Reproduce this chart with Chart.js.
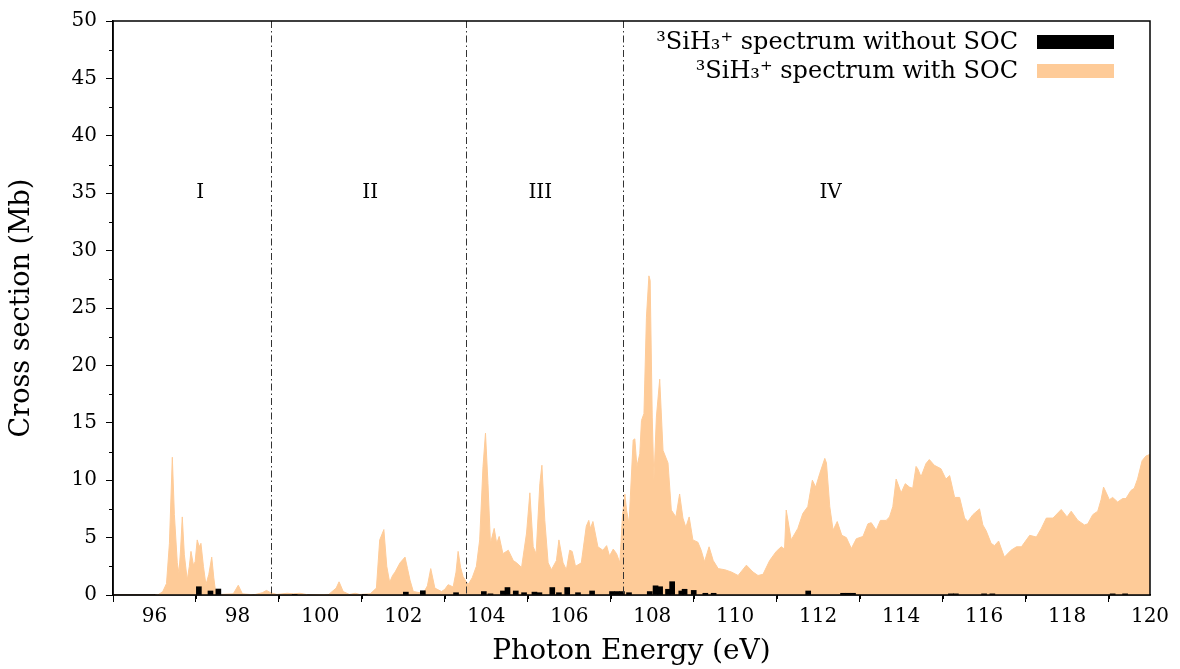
<!DOCTYPE html>
<html>
<head>
<meta charset="utf-8">
<script src="https://cdn.jsdelivr.net/npm/chart.js@4.4.1/dist/chart.umd.min.js"></script>
<style>
  html, body { margin: 0; padding: 0; background: #ffffff; }
  #wrap { width: 1180px; height: 669px; }
</style>
</head>
<body>
<div id="wrap"><canvas id="c" width="1180" height="669"></canvas></div>
<script>
// ---- data ----
const energySOC = [
  95.0, 96.0, 96.1, 96.2, 96.29, 96.36, 96.43, 96.48, 96.55, 96.59, 96.63, 96.67, 96.72, 96.79, 96.84, 96.88, 96.94, 96.98,
  97.03, 97.08, 97.12, 97.18, 97.24, 97.31, 97.38, 97.43, 97.48, 97.6, 97.9, 98.02, 98.12, 98.4, 98.6, 98.7, 98.8, 98.95,
  99.2, 99.35, 99.5, 99.7, 100.2, 100.38, 100.45, 100.55, 100.7, 100.84, 100.95, 101.2, 101.35, 101.43, 101.53, 101.6,
  101.67, 101.74, 101.8, 101.92, 102.04, 102.1, 102.16, 102.24, 102.48, 102.58, 102.66, 102.76, 102.92, 103.0, 103.08,
  103.2, 103.27, 103.32, 103.38, 103.44, 103.56, 103.66, 103.76, 103.84, 103.92, 103.98, 104.04, 104.1, 104.19, 104.25,
  104.31, 104.4, 104.53, 104.65, 104.73, 104.85, 104.97, 105.05, 105.13, 105.2, 105.29, 105.34, 105.41, 105.49, 105.57,
  105.69, 105.75, 105.85, 105.93, 106.01, 106.07, 106.15, 106.29, 106.41, 106.47, 106.51, 106.57, 106.69, 106.81, 106.9,
  106.97, 107.06, 107.14, 107.22, 107.28, 107.34, 107.38, 107.44, 107.54, 107.58, 107.63, 107.7, 107.74, 107.8, 107.86,
  107.92, 107.95, 108.0, 108.04, 108.1, 108.18, 108.26, 108.38, 108.46, 108.57, 108.66, 108.74, 108.81, 108.89, 108.98,
  109.1, 109.18, 109.26, 109.37, 109.47, 109.59, 109.75, 109.91, 110.07, 110.27, 110.43, 110.55, 110.67, 110.83, 110.99,
  111.11, 111.19, 111.23, 111.35, 111.51, 111.63, 111.75, 111.86, 111.94, 112.04, 112.16, 112.2, 112.28, 112.36, 112.46,
  112.57, 112.68, 112.8, 112.92, 113.08, 113.2, 113.28, 113.4, 113.5, 113.64, 113.72, 113.8, 113.88, 114.0, 114.1, 114.2,
  114.28, 114.36, 114.4, 114.48, 114.6, 114.68, 114.8, 114.96, 115.08, 115.17, 115.29, 115.41, 115.53, 115.61, 115.73,
  115.89, 115.97, 116.05, 116.17, 116.25, 116.35, 116.49, 116.65, 116.78, 116.9, 117.1, 117.26, 117.38, 117.5, 117.66,
  117.86, 118.0, 118.1, 118.26, 118.42, 118.5, 118.62, 118.74, 118.82, 118.88, 118.94, 119.02, 119.1, 119.22, 119.34,
  119.42, 119.54, 119.62, 119.7, 119.81, 119.9, 120.0
];
const crossSectionSOC = [
  0, 0, 0.05, 0.3, 1.0, 4.5, 12.0, 7.0, 2.8, 1.9, 4.0, 6.8, 3.5, 1.3, 2.5, 3.8, 2.6, 2.9,
  4.8, 4.2, 4.5, 2.5, 0.9, 1.8, 3.3, 1.5, 0.1, 0.05, 0.1, 0.85, 0.1, 0.02, 0.2, 0.4, 0.2, 0.05,
  0.15, 0.1, 0.15, 0.02, 0.05, 0.6, 1.15, 0.3, 0.05, 0.15, 0.05, 0.1, 0.6, 4.8, 5.7, 2.5,
  1.1, 1.7, 2.0, 2.8, 3.3, 2.3, 1.3, 0.3, 0.15, 0.8, 2.3, 0.6, 0.3, 0.5, 0.9,
  0.7, 2.0, 3.8, 2.4, 1.6, 0.9, 1.5, 2.5, 4.8, 11.2, 14.1, 9.7, 4.5, 5.8, 4.5,
  5.1, 3.6, 3.9, 3.0, 2.8, 2.4, 5.4, 8.9, 4.2, 3.6, 9.7, 11.3, 6.5, 2.8, 2.2,
  3.0, 4.8, 2.8, 2.2, 3.9, 3.8, 2.5, 2.8, 6.0, 6.5, 5.8, 6.4, 4.2, 3.9, 4.3,
  3.4, 4.0, 3.6, 2.8, 6.8, 8.8, 7.4, 6.2, 13.5, 13.6, 11.2, 12.3, 15.2, 15.8, 24.2,
  27.8, 27.4, 15.5, 10.0, 15.5, 18.8, 12.6, 11.5, 7.4, 6.8, 8.8, 6.7, 5.9, 6.8, 4.8,
  4.6, 3.9, 2.9, 4.2, 3.0, 2.3, 2.2, 2.0, 1.7, 2.6, 2.0, 1.7, 1.8, 3.0, 3.8,
  4.2, 4.0, 7.4, 4.8, 5.8, 7.1, 7.7, 10.0, 9.4, 10.6, 11.9, 11.5, 7.7, 5.65, 6.4,
  5.2, 5.0, 4.05, 4.9, 5.1, 6.2, 6.3, 5.65, 6.5, 6.5, 6.8, 7.7, 10.1, 8.9, 9.7, 9.4,
  9.3, 11.2, 11.0, 10.3, 11.45, 11.8, 11.3, 11.0, 10.1, 10.4, 8.5, 8.5, 6.7, 6.4, 7.0,
  7.5, 6.1, 5.6, 4.5, 4.3, 4.7, 3.3, 3.9, 4.2, 4.2, 5.2, 5.05, 5.8, 6.7, 6.7,
  7.45, 6.8, 7.3, 6.5, 6.1, 6.2, 7.0, 7.3, 8.3, 9.4, 8.95, 8.3, 8.5, 8.1, 8.4,
  8.4, 9.1, 9.3, 10.1, 11.7, 12.1, 12.25
];
const energyNoSOC = [
  97.07, 97.35, 97.54, 99.38, 101.07, 102.06, 102.47, 103.27, 103.94, 104.1, 104.4, 104.51, 104.71, 104.91,
  105.16, 105.28, 105.59, 105.75, 105.95, 106.21, 106.55, 107.03, 107.15, 107.27, 107.44, 107.94, 108.08, 108.19,
  108.38, 108.48, 108.7, 108.78, 109.0, 109.28, 109.48, 111.76, 112.6, 112.72, 112.84, 115.2, 115.32, 116.0,
  116.2, 119.1, 119.4
];
const crossSectionNoSOC = [
  0.72, 0.35, 0.52, 0.05, 0.05, 0.25, 0.37, 0.2, 0.3, 0.1, 0.35, 0.65, 0.35, 0.2,
  0.25, 0.2, 0.65, 0.2, 0.65, 0.2, 0.35, 0.3, 0.3, 0.3, 0.2, 0.3, 0.8, 0.72,
  0.5, 1.16, 0.35, 0.5, 0.4, 0.15, 0.15, 0.35, 0.15, 0.15, 0.15, 0.1, 0.1, 0.1,
  0.1, 0.1, 0.1
];
const seriesLabels = ['\u00B3SiH\u2083\u207A spectrum without SOC', '\u00B3SiH\u2083\u207A spectrum with SOC'];
const xMajorTicks = [96, 98, 100, 102, 104, 106, 108, 110, 112, 114, 116, 118, 120];
const xMinorTicks = [95, 97, 99, 101, 103, 105, 107, 109, 111, 113, 115, 117, 119];
const yMajorTicks = [0, 5, 10, 15, 20, 25, 30, 35, 40, 45, 50];
const yMinorTicks = [2.5, 7.5, 12.5, 17.5, 22.5, 27.5, 32.5, 37.5, 42.5, 47.5];
const regionBoundaries = [98.8, 103.5, 107.3];
const regionNames = ['I', 'II', 'III', 'IV'];
const regionNameEnergy = [97.1, 101.2, 105.3, 112.3];
const regionNameLevel = 35;

// ---- styles ----
const FONT = "'DejaVu Serif', 'Liberation Serif', serif";
const PEACH = '#FECB98';

const decorPlugin = {
  id: 'decor',
  afterDatasetsDraw(chart) {
    const { ctx, chartArea: a, scales: { x, y } } = chart;
    ctx.save();
    ctx.strokeStyle = '#333333';
    ctx.lineWidth = 1;
    ctx.setLineDash([7, 3, 1.5, 3]);
    regionBoundaries.forEach(e => {
      const px = Math.round(x.getPixelForValue(e)) + 0.5;
      ctx.beginPath(); ctx.moveTo(px, a.top); ctx.lineTo(px, a.bottom); ctx.stroke();
    });
    ctx.setLineDash([]);
    ctx.fillStyle = '#000';
    ctx.font = '20px ' + FONT;
    ctx.textAlign = 'center';
    ctx.textBaseline = 'middle';
    regionNames.forEach((n, i) => {
      ctx.fillText(n, x.getPixelForValue(regionNameEnergy[i]), y.getPixelForValue(regionNameLevel));
    });
    ctx.restore();
  },
  afterDraw(chart) {
    const { ctx, chartArea: a, scales: { x, y } } = chart;
    ctx.save();
    ctx.strokeStyle = '#000';
    ctx.lineWidth = 1.5;
    ctx.strokeRect(a.left, a.top, a.right - a.left, a.bottom - a.top);
    ctx.lineWidth = 1;
    xMinorTicks.forEach(v => {
      const px = Math.round(x.getPixelForValue(v)) + 0.5;
      ctx.beginPath(); ctx.moveTo(px, a.bottom); ctx.lineTo(px, a.bottom + 4); ctx.stroke();
    });
    yMinorTicks.forEach(v => {
      const py = Math.round(y.getPixelForValue(v)) + 0.5;
      ctx.beginPath(); ctx.moveTo(a.left, py); ctx.lineTo(a.left - 4, py); ctx.stroke();
    });
    const ds = chart.data.datasets;
    const order = [1, 0];
    ctx.font = '24px ' + FONT;
    ctx.textAlign = 'right';
    ctx.textBaseline = 'middle';
    const boxW = 77, boxH = 14, rowH = 29;
    const boxRight = a.right - 36;
    const top0 = a.top + 21;
    order.forEach((di, r) => {
      const d = ds[di];
      const cy = top0 + r * rowH;
      ctx.fillStyle = d.legendColor;
      ctx.fillRect(boxRight - boxW, cy - boxH / 2, boxW, boxH);
      ctx.fillStyle = '#000';
      ctx.fillText(d.label, boxRight - boxW - 19, cy + 1);
    });
    ctx.restore();
  }
};

new Chart(document.getElementById('c'), {
  data: {
    datasets: [
      {
        type: 'line',
        label: seriesLabels[1],
        data: energySOC.map((e, i) => ({ x: e, y: crossSectionSOC[i] })),
        backgroundColor: PEACH,
        borderColor: PEACH,
        legendColor: PEACH,
        borderWidth: 1,
        pointRadius: 0,
        tension: 0,
        fill: 'origin',
        order: 2
      },
      {
        type: 'bar',
        label: seriesLabels[0],
        data: energyNoSOC.map((e, i) => ({ x: e, y: crossSectionNoSOC[i] })),
        backgroundColor: '#000000',
        legendColor: '#000000',
        barThickness: 5,
        grouped: false,
        order: 1
      }
    ]
  },
  options: {
    responsive: false,
    animation: false,
    events: [],
    layout: { padding: { top: 20, right: 30, left: 0, bottom: 0 } },
    plugins: { legend: { display: false }, tooltip: { enabled: false } },
    scales: {
      x: {
        type: 'linear',
        min: 95, max: 120,
        offset: false,
        afterBuildTicks: s => { s.ticks = xMajorTicks.map(v => ({ value: v })); },
        afterFit: s => { s.height = 74; },
        ticks: { color: '#000', font: { family: FONT, size: 20 }, padding: 3, maxRotation: 0, autoSkip: false },
        grid: { drawOnChartArea: false, drawTicks: true, tickLength: 7, color: '#000', lineWidth: 1 },
        border: { display: true, color: '#000', width: 1.5 },
        title: { display: true, text: 'Photon Energy (eV)', color: '#000', font: { family: FONT, size: 28 }, padding: { top: 0, bottom: 0 } }
      },
      y: {
        type: 'linear',
        min: 0, max: 50,
        afterBuildTicks: s => { s.ticks = yMajorTicks.map(v => ({ value: v })); },
        afterFit: s => { s.width = 113; },
        ticks: { color: '#000', font: { family: FONT, size: 20 }, padding: 9 },
        grid: { drawOnChartArea: false, drawTicks: true, tickLength: 7, color: '#000', lineWidth: 1 },
        border: { display: true, color: '#000', width: 1.5 },
        title: { display: true, text: 'Cross section (Mb)', color: '#000', font: { family: FONT, size: 27 }, padding: { top: 6, bottom: 0 } }
      }
    }
  },
  plugins: [decorPlugin]
});
</script>
</body>
</html>
